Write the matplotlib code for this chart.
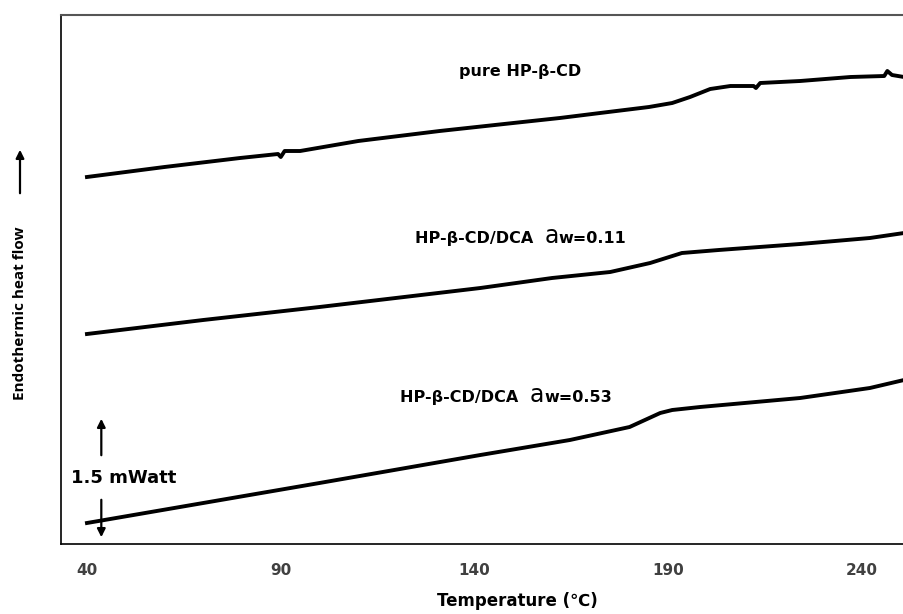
import matplotlib
matplotlib.use("Agg")
import matplotlib.pyplot as plt
from matplotlib.patches import FancyArrowPatch

plt.rcParams['font.family'] = ['DejaVu Sans']

# temperature (C) and heat flow (arbitrary offset units)
temp_pure = [40, 60, 79.5, 89.3, 90, 91, 95, 110, 131, 150, 162, 172.4, 185, 191, 195.6,
             200.8, 206, 212, 212.6, 213.7, 224, 237, 245.7, 246.5, 247.7, 250.8]
flow_pure = [367, 377, 386, 390, 387, 393, 393, 403, 413, 421, 426, 431, 437, 441, 447,
             455, 458, 458, 456, 461, 463, 467, 468, 473, 469, 467]

temp_011 = [40, 70, 100, 141.5, 160, 175, 185.3, 193.5, 203, 224, 242, 250.8]
flow_011 = [210, 224, 237, 256, 266, 272, 281, 291, 294, 300, 306, 311]

temp_053 = [40, 70, 100, 141.5, 164.6, 180, 187.9, 191, 198.2, 224, 242, 250.8]
flow_053 = [21, 41, 61, 89, 104, 117, 131, 134, 137, 146, 156, 164]

curves = [
    (temp_pure, flow_pure),
    (temp_011, flow_011),
    (temp_053, flow_053),
]

xticks = [40, 90, 140, 190, 240]

fig = plt.figure(figsize=(9.04, 6.14), dpi=100)
ax = fig.add_axes([61 / 904, 70 / 614, 1 - 61 / 904, 529 / 614])

for t, f in curves:
    ax.plot(t, f, color='black', lw=2.8, solid_joinstyle='round')

ax.set_xlim(33.3, 250.8)
ax.set_ylim(0, 529)
ax.set_yticks([])
ax.set_xticks(xticks)
ax.set_xticklabels([str(v) for v in xticks], fontweight='bold', color='#404040', fontsize=11)
ax.tick_params(axis='x', length=0, pad=14)

for s in ['left', 'bottom']:
    ax.spines[s].set_color('black')
    ax.spines[s].set_linewidth(1.2)
ax.spines['top'].set_color('#555555')
ax.spines['top'].set_linewidth(1.5)
ax.spines['right'].set_visible(False)

fig.text(517 / 904, 1 - 601 / 614, 'Temperature (\u2103)', fontweight='bold', fontsize=12,
         ha='center', va='center')

# curve labels
ax.text(151.7, 468, 'pure HP-\u03b2-CD', fontweight='bold', fontsize=11.5,
        ha='center', va='baseline')


def sample_label(x, y, aw):
    t1 = ax.text(x, y, 'HP-\u03b2-CD/DCA  ', fontweight='bold', fontsize=11.5, va='baseline')
    t2 = ax.annotate('a', xy=(1, y), xycoords=(t1, 'data'), fontsize=17, va='baseline')
    ax.annotate('w=' + aw, xy=(1, y), xycoords=(t2, 'data'), fontweight='bold',
                fontsize=11.5, va='baseline')


sample_label(124.6, 301, '0.11')
sample_label(120.8, 142, '0.53')

# y axis label with arrow
fig.text(20 / 904, 1 - 313 / 614, 'Endothermic heat flow', rotation=90, fontweight='bold',
         fontsize=11, family='Open Sans', ha='center', va='center')
fig.add_artist(FancyArrowPatch(
    (20 / 904, 1 - 196 / 614), (20 / 904, 1 - 147 / 614), transform=fig.transFigure,
    arrowstyle='-|>', mutation_scale=12, color='black', lw=1.6))

# scale bar
ax.annotate('', xy=(43.7, 544 - 416), xytext=(43.7, 544 - 458),
            arrowprops=dict(arrowstyle='-|>', color='black', lw=1.6, mutation_scale=12))
ax.annotate('', xy=(43.7, 544 - 540), xytext=(43.7, 544 - 497),
            arrowprops=dict(arrowstyle='-|>', color='black', lw=1.6, mutation_scale=12))
ax.text(35.9, 61, '1.5 mWatt', fontweight='bold', fontsize=13, va='baseline', ha='left')

fig.savefig('out.png', dpi=100)
